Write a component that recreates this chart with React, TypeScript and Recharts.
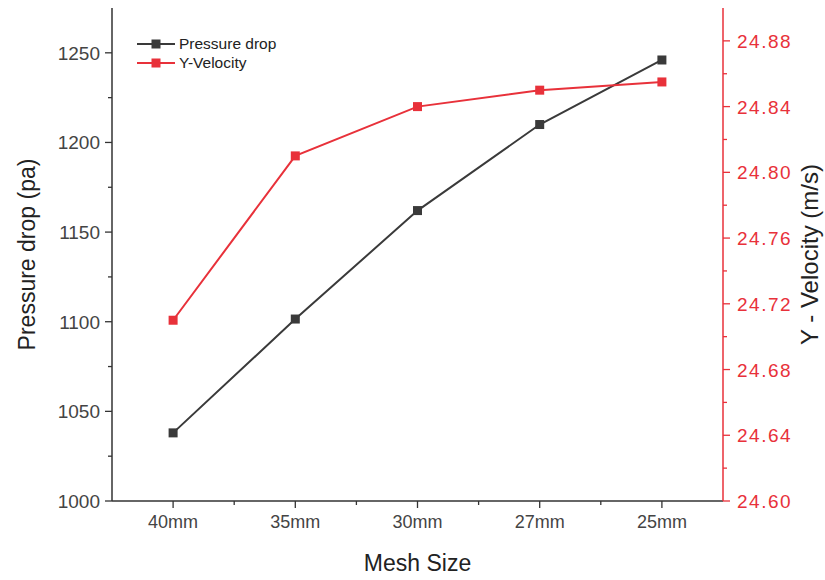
import { LineChart, Line, XAxis, YAxis, Legend } from 'recharts';

const meshSizes = ['40mm', '35mm', '30mm', '27mm', '25mm'];
const pressureDrop = [1038, 1101.5, 1162, 1210, 1246];
const yVelocity = [24.71, 24.81, 24.84, 24.85, 24.855];

const leftTicks = [1000, 1025, 1050, 1075, 1100, 1125, 1150, 1175, 1200, 1225, 1250];
const rightTicks = [24.6, 24.62, 24.64, 24.66, 24.68, 24.7, 24.72, 24.74, 24.76, 24.78, 24.8, 24.82, 24.84, 24.86, 24.88];
const xTicks = [0, 0.5, 1, 1.5, 2, 2.5, 3, 3.5, 4];

const data = meshSizes.map((m, i) => ({ x: i, mesh: m, pressure: pressureDrop[i], velocity: yVelocity[i] }));

const FONT = '"Liberation Sans", Arial, sans-serif';
const DARK = '#333333';
const RED = '#e8313a';
const TICK = 7;
const MINOR = 4;
const MARGIN = 5;

const LeftTick = (p: any) => {
  const v = p.payload.value;
  const major = v % 50 === 0;
  const ax = p.x + MARGIN + TICK;
  return (
    <g>
      <line x1={ax - (major ? TICK : MINOR)} x2={ax} y1={p.y} y2={p.y} stroke={DARK} strokeWidth={1.3} />
      {major && (
        <text x={p.x} y={p.y} dy={7} textAnchor="end" fill="#444" fontSize={19} fontFamily={FONT}>{v}</text>
      )}
    </g>
  );
};

const RightTick = (p: any) => {
  const idx = p.index;
  const major = idx % 2 === 0;
  const ax = p.x - MARGIN - TICK;
  return (
    <g>
      <line x1={ax} x2={ax + (major ? TICK : MINOR)} y1={p.y} y2={p.y} stroke={RED} strokeWidth={1.3} />
      {major && (
        <text x={p.x + 2} y={p.y} dy={7} textAnchor="start" fill={RED} fontSize={19} letterSpacing={1.5} fontFamily={FONT}>
          {p.payload.value.toFixed(2)}
        </text>
      )}
    </g>
  );
};

const BottomTick = (p: any) => {
  const v = p.payload.value;
  const major = Number.isInteger(v);
  const ay = p.y - MARGIN - TICK;
  return (
    <g>
      <line x1={p.x} x2={p.x} y1={ay} y2={ay + (major ? TICK : MINOR)} stroke={DARK} strokeWidth={1.3} />
      {major && (
        <text x={p.x} y={p.y} dy={15} textAnchor="middle" fill="#444" fontSize={18} fontFamily={FONT}>{meshSizes[v]}</text>
      )}
    </g>
  );
};

const TopTick = (p: any) => {
  const v = p.payload.value;
  const major = Number.isInteger(v);
  const ay = p.y + MARGIN + TICK;
  return <line x1={p.x} x2={p.x} y1={ay} y2={ay + (major ? 6 : 4)} stroke={DARK} strokeWidth={1.3} />;
};

const square = (color: string) => (props: any) => {
  const { cx, cy, index } = props;
  return <rect key={index} x={cx - 4.5} y={cy - 4.5} width={9} height={9} fill={color} />;
};

const LegendContent = (props: any) => (
  <div style={{ fontFamily: FONT, fontSize: 15.5, color: '#222' }}>
    {props.payload.map((e: any) => (
      <div key={e.value} style={{ display: 'flex', alignItems: 'center', height: 19 }}>
        <svg width={40} height={12}>
          <line x1={0} x2={38} y1={6} y2={6} stroke={e.color} strokeWidth={2} />
          <rect x={14.5} y={1.5} width={9} height={9} fill={e.color} />
        </svg>
        <span style={{ marginLeft: 2 }}>{e.value}</span>
      </div>
    ))}
  </div>
);

export default function App() {
  return (
    <div style={{ position: 'absolute', left: 0, top: 0, background: '#fff' }}>
      <LineChart width={825} height={580} data={data} margin={{ top: 8, right: 32, left: 42, bottom: 19 }}>
        <XAxis
          xAxisId="bottom"
          dataKey="x"
          type="number"
          domain={[-0.5, 4.5]}
          ticks={xTicks}
          interval={0}
          tickSize={TICK}
          tickMargin={MARGIN}
          tickLine={false}
          tick={<BottomTick />}
          height={60}
          axisLine={{ stroke: DARK, strokeWidth: 1.5 }}
          label={{ value: 'Mesh Size', position: 'insideBottom', offset: -10, style: { fontFamily: FONT, fontSize: 23, fill: '#222' } }}
        />
        <XAxis
          xAxisId="top"
          orientation="top"
          type="number"
          domain={[-0.5, 4.5]}
          ticks={xTicks}
          interval={0}
          tickSize={TICK}
          tickMargin={MARGIN}
          tickLine={false}
          tick={<TopTick />}
          height={0}
          axisLine={{ stroke: '#111', strokeWidth: 2 }}
        />
        <YAxis
          yAxisId="left"
          domain={[1000, 1275]}
          ticks={leftTicks}
          interval={0}
          width={70}
          tickSize={TICK}
          tickMargin={MARGIN}
          tickLine={false}
          tick={<LeftTick />}
          axisLine={{ stroke: DARK, strokeWidth: 1.5 }}
          label={{ value: 'Pressure drop (pa)', angle: -90, position: 'insideLeft', offset: -15, style: { textAnchor: 'middle', fontFamily: FONT, fontSize: 23, fill: '#222' } }}
        />
        <YAxis
          yAxisId="right"
          orientation="right"
          domain={[24.6, 24.9]}
          ticks={rightTicks}
          interval={0}
          width={70}
          tickSize={TICK}
          tickMargin={MARGIN}
          tickLine={false}
          tick={<RightTick />}
          axisLine={{ stroke: RED, strokeWidth: 1.5 }}
          label={{ value: 'Y - Velocity (m/s)', angle: -90, position: 'insideRight', offset: -16, style: { textAnchor: 'middle', fontFamily: FONT, fontSize: 24, fill: '#222' } }}
        />
        <Legend
          verticalAlign="middle"
          align="center"
          wrapperStyle={{ left: 137, top: 34, width: 200 }}
          content={<LegendContent />}
        />
        <Line
          xAxisId="bottom"
          yAxisId="left"
          dataKey="pressure"
          name="Pressure drop"
          stroke="#3a3a3a"
          strokeWidth={2}
          dot={square('#3a3a3a')}
          isAnimationActive={false}
        />
        <Line
          xAxisId="bottom"
          yAxisId="right"
          dataKey="velocity"
          name="Y-Velocity"
          stroke={RED}
          strokeWidth={2}
          dot={square(RED)}
          isAnimationActive={false}
        />
      </LineChart>
    </div>
  );
}
